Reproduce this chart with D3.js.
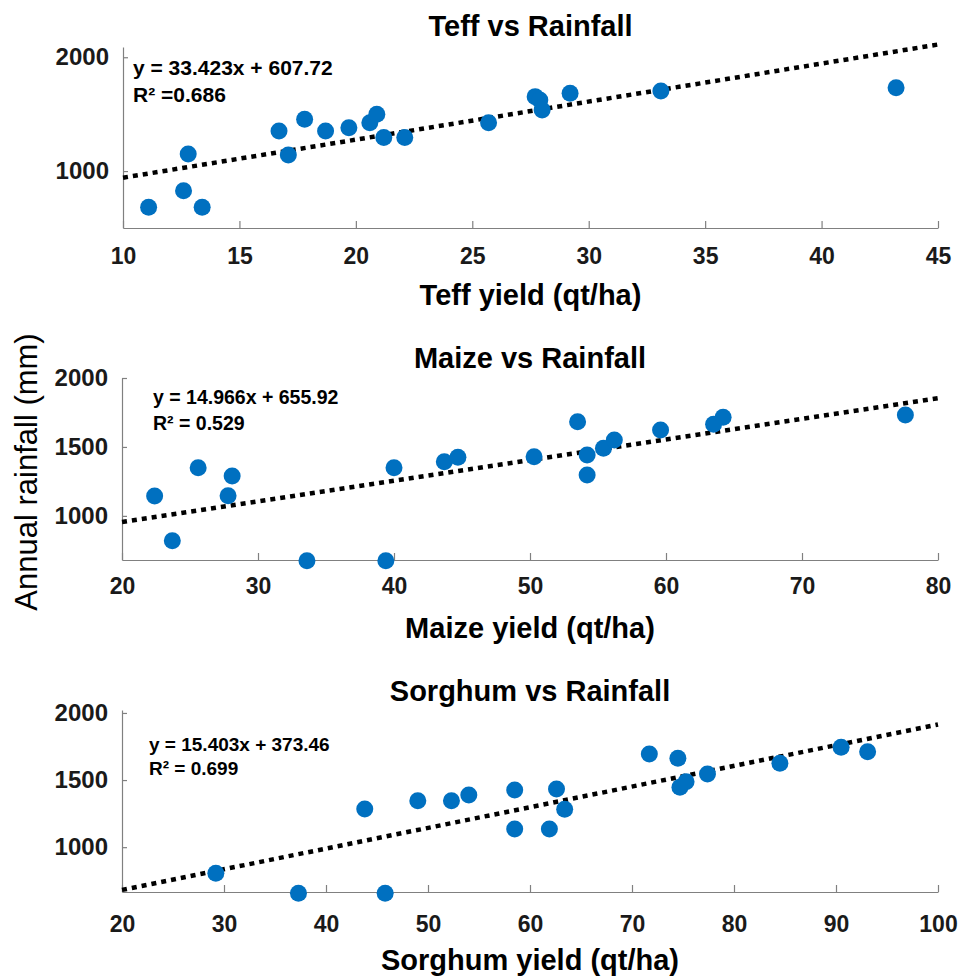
<!DOCTYPE html>
<html>
<head>
<meta charset="utf-8">
<script src="https://cdn.jsdelivr.net/npm/d3@7"></script>
<style>
  body { margin: 0; background: #fff; }
  svg { display: block; font-family: "Liberation Sans", Arial, sans-serif; }
  .axis path, .axis line { stroke: #808080; stroke-width: 1.2; }
  .axis text { font-size: 23px; font-weight: bold; fill: #1a1a1a; }
  .axis.yaxis text { font-size: 24px; }
</style>
</head>
<body>
<div id="chart"></div>
<script>
// Data
const teffYield = [11.1, 12.6, 12.8, 13.4, 16.7, 17.1, 17.8, 18.7, 19.7, 20.6, 20.9, 21.2, 22.1, 25.7, 27.7, 27.9, 28.0, 29.2, 33.1, 43.2];
const teffRain  = [682, 828, 1150, 682, 1352, 1141, 1455, 1352, 1381, 1425, 1499, 1294, 1294, 1425, 1654, 1625, 1537, 1684, 1704, 1733];

const maizeYield = [22.4, 23.7, 25.6, 27.8, 28.1, 33.6, 39.4, 40.0, 43.7, 44.7, 50.3, 53.5, 54.2, 54.2, 55.4, 56.2, 59.6, 63.5, 64.2, 77.6];
const maizeRain  = [1144, 820, 1349, 1146, 1289, 675, 675, 1349, 1393, 1425, 1429, 1683, 1441, 1296, 1490, 1550, 1623, 1664, 1715, 1731];

const sorghumYield = [29.2, 37.3, 43.8, 45.8, 49.0, 52.3, 54.0, 58.5, 58.5, 61.9, 62.6, 63.4, 71.7, 74.5, 74.7, 75.3, 77.4, 84.5, 90.5, 93.1];
const sorghumRain  = [805, 656, 1284, 656, 1346, 1346, 1389, 1426, 1135, 1135, 1433, 1282, 1694, 1662, 1446, 1488, 1545, 1625, 1744, 1711];

const trendSlope     = [33.423, 14.966, 15.403];
const trendIntercept = [607.72, 655.92, 373.46];
const eqLabels = ["y = 33.423x + 607.72", "y = 14.966x + 655.92", "y = 15.403x + 373.46"];
const r2Labels = ["R\u00B2 =0.686", "R\u00B2 = 0.529", "R\u00B2 = 0.699"];

const titles  = ["Teff vs Rainfall", "Maize vs Rainfall", "Sorghum vs Rainfall"];
const xLabels = ["Teff yield (qt/ha)", "Maize yield (qt/ha)", "Sorghum yield (qt/ha)"];
const yLabel  = "Annual rainfall (mm)";

const xDomains = [[10, 45], [20, 80], [20, 100]];
const yDomains = [[500, 2090], [680, 2000], [666, 2022]];
const xTicks = [[10, 15, 20, 25, 30, 35, 40, 45], [20, 30, 40, 50, 60, 70, 80], [20, 30, 40, 50, 60, 70, 80, 90, 100]];
const yTicks = [[1000, 2000], [1000, 1500, 2000], [1000, 1500, 2000]];

const xs = [teffYield, maizeYield, sorghumYield];
const ys = [teffRain, maizeRain, sorghumRain];

// Layout of each panel
const layout = [
  {left: 123, right: 938, top: 47,  bottom: 228, titleY: 36,  labelY: 305, xPad: 20, eqX: 133, eqY: 75,  r2Y: 102, eqSize: 21},
  {left: 122, right: 938, top: 378, bottom: 560, titleY: 368, labelY: 638, xPad: 18, eqX: 153, eqY: 404, r2Y: 430, eqSize: 19.5},
  {left: 122, right: 938, top: 710, bottom: 892, titleY: 701, labelY: 970, xPad: 24, eqX: 149, eqY: 751, r2Y: 775, eqSize: 19}
];

const width = 962, height = 980;
const svg = d3.select("#chart").append("svg")
    .attr("width", width)
    .attr("height", height);

svg.append("rect").attr("width", width).attr("height", height).attr("fill", "#fff");

layout.forEach((p, i) => {
  const x = d3.scaleLinear().domain(xDomains[i]).range([p.left, p.right]);
  const y = d3.scaleLinear().domain(yDomains[i]).range([p.bottom, p.top]);
  const g = svg.append("g");

  // Axes
  g.append("g")
      .attr("class", "axis")
      .attr("transform", `translate(0,${p.bottom})`)
      .call(d3.axisBottom(x).tickValues(xTicks[i]).tickFormat(d3.format("d"))
        .tickSize(-7).tickSizeOuter(0).tickPadding(p.xPad));

  g.append("g")
      .attr("class", "axis yaxis")
      .attr("transform", `translate(${p.left},0)`)
      .call(d3.axisLeft(y).tickValues(yTicks[i]).tickFormat(d3.format("d"))
        .tickSize(-5).tickSizeOuter(0).tickPadding(14));

  // Trend line
  const line = d3.line().x(d => x(d[0])).y(d => y(d[1]));
  const ends = xDomains[i].map(v => [v, trendSlope[i] * v + trendIntercept[i]]);
  g.append("path")
      .attr("d", line(ends))
      .attr("fill", "none")
      .attr("stroke", "#000")
      .attr("stroke-width", 4.5)
      .attr("stroke-dasharray", "5,5");

  // Points
  g.selectAll(".dot")
      .data(d3.zip(xs[i], ys[i]))
    .enter().append("circle")
      .attr("class", "dot")
      .attr("cx", d => x(d[0]))
      .attr("cy", d => y(d[1]))
      .attr("r", 8.5)
      .attr("fill", "#0070c0");

  // Equation
  g.append("text")
      .attr("x", p.eqX).attr("y", p.eqY)
      .style("font-size", p.eqSize + "px").style("font-weight", "bold")
      .text(eqLabels[i]);
  g.append("text")
      .attr("x", p.eqX).attr("y", p.r2Y)
      .style("font-size", p.eqSize + "px").style("font-weight", "bold")
      .text(r2Labels[i]);

  // Title and x label
  const cx = (p.left + p.right) / 2;
  g.append("text")
      .attr("x", cx).attr("y", p.titleY)
      .attr("text-anchor", "middle")
      .style("font-size", "29px").style("font-weight", "bold")
      .text(titles[i]);
  g.append("text")
      .attr("x", cx).attr("y", p.labelY)
      .attr("text-anchor", "middle")
      .style("font-size", "29px").style("font-weight", "bold")
      .text(xLabels[i]);
});

// Shared y label
svg.append("text")
    .attr("transform", "translate(37,472) rotate(-90)")
    .attr("text-anchor", "middle")
    .style("font-size", "31px")
    .text(yLabel);
</script>
</body>
</html>
